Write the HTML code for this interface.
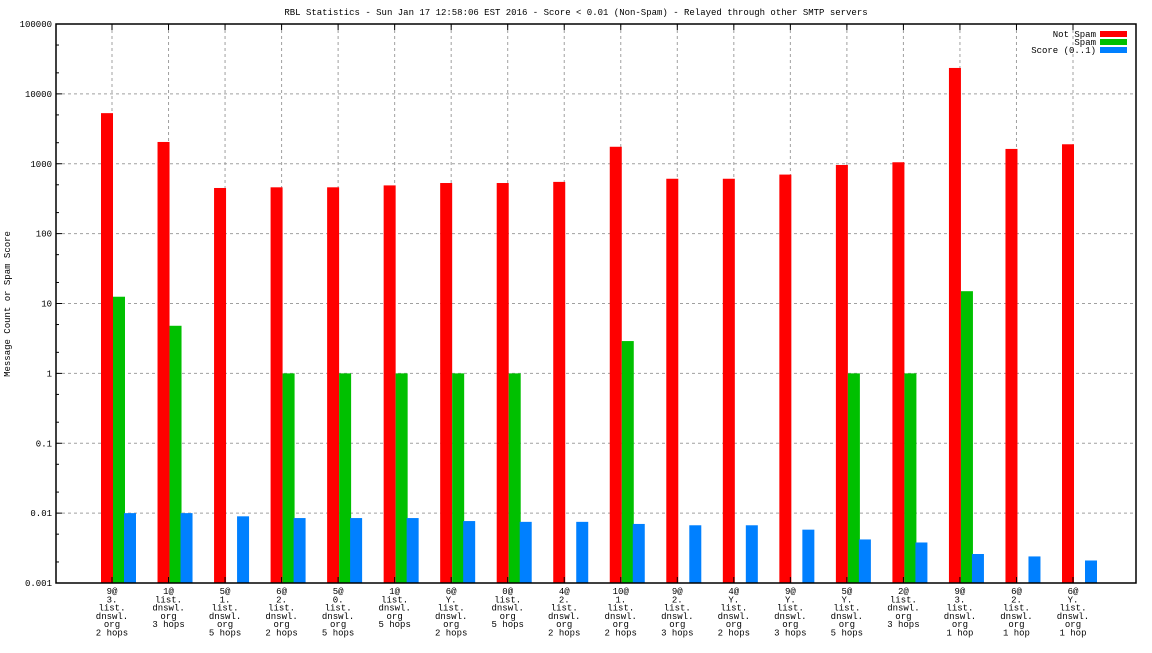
<!DOCTYPE html>
<html><head><meta charset="utf-8"><style>
body{margin:0;background:#fff;}
svg text{font-family:"Liberation Mono","DejaVu Sans Mono",monospace;font-size:9px;fill:#000;}
</style></head><body>
<svg id="chart" width="1152" height="648" xmlns="http://www.w3.org/2000/svg">
<text x="576" y="15" text-anchor="middle">RBL Statistics - Sun Jan 17 12:58:06 EST 2016 - Score &lt; 0.01 (Non-Spam) - Relayed through other SMTP servers</text>
<text transform="translate(10,304) rotate(-90)" text-anchor="middle">Message Count or Spam Score</text>
<g id="grid"></g><g id="bars"></g><g id="axes"></g><g id="labels"></g>
<g>
<text x="1096" y="37" text-anchor="end">Not Spam</text><rect x="1100" y="31" width="27" height="6" fill="#ff0000"/>
<text x="1096" y="45" text-anchor="end">Spam</text><rect x="1100" y="39" width="27" height="6" fill="#00c000"/>
<text x="1096" y="53" text-anchor="end">Score (0..1)</text><rect x="1100" y="47" width="27" height="6" fill="#0080ff"/>
</g>
</svg>
<script>
const categories=[["9@","3.","list.","dnswl.","org","2 hops"],["1@","list.","dnswl.","org","3 hops"],["5@","1.","list.","dnswl.","org","5 hops"],["6@","2.","list.","dnswl.","org","2 hops"],["5@","0.","list.","dnswl.","org","5 hops"],["1@","list.","dnswl.","org","5 hops"],["6@","Y.","list.","dnswl.","org","2 hops"],["0@","list.","dnswl.","org","5 hops"],["4@","2.","list.","dnswl.","org","2 hops"],["10@","1.","list.","dnswl.","org","2 hops"],["9@","2.","list.","dnswl.","org","3 hops"],["4@","Y.","list.","dnswl.","org","2 hops"],["9@","Y.","list.","dnswl.","org","3 hops"],["5@","Y.","list.","dnswl.","org","5 hops"],["2@","list.","dnswl.","org","3 hops"],["9@","3.","list.","dnswl.","org","1 hop"],["6@","2.","list.","dnswl.","org","1 hop"],["6@","Y.","list.","dnswl.","org","1 hop"]];
const notSpam=[5300,2050,450,460,460,490,530,530,550,1750,610,610,700,960,1050,23500,1630,1900];
const spam=[12.5,4.8,0,1,1,1,1,1,0,2.9,0,0,0,1,1,15,0,0];
const score=[0.0100,0.0100,0.0090,0.0085,0.0085,0.0085,0.0077,0.0075,0.0075,0.0070,0.0067,0.0067,0.0058,0.0042,0.0038,0.0026,0.0024,0.0021];
const yTicks=["0.001","0.01","0.1","1","10","100","1000","10000","100000"];
const NS="http://www.w3.org/2000/svg";
const L=56,R=1136,T=24,B=583;
const y=v=>B-(Math.log10(v)+3)/8*(B-T);
const x=i=>112+i*(1073-112)/17;
function mk(tag,attrs,parent){const e=document.createElementNS(NS,tag);for(const k in attrs)e.setAttribute(k,attrs[k]);document.getElementById(parent).appendChild(e);return e;}
yTicks.forEach((t,k)=>{const v=parseFloat(t),yy=y(v);
 if(k>0&&k<yTicks.length-1){const g=mk('line',{x1:L,x2:R,y1:yy,y2:yy,stroke:'#a0a0a0','stroke-dasharray':'3,3'},'grid');
 
 }
 const tx=mk('text',{x:L-4,y:yy+3,'text-anchor':'end'},'labels');tx.textContent=t;
 
 
 mk('line',{x1:L,x2:L+6,y1:yy,y2:yy,stroke:'#000'},'axes');
 if(k<yTicks.length-1)[2,5].forEach(m=>{const my=y(v*m);mk('line',{x1:L,x2:L+3,y1:my,y2:my,stroke:'#000'},'axes');});
});
categories.forEach((c,i)=>{const cx=x(i);
 const g=mk('line',{x1:cx,x2:cx,y1:T,y2:B,stroke:'#a0a0a0','stroke-dasharray':'3,3'},'grid');
 
 
 mk('line',{x1:cx,x2:cx,y1:T,y2:T+6,stroke:'#000'},'axes');
 mk('line',{x1:cx,x2:cx,y1:B,y2:B-6,stroke:'#000'},'axes');
 const series=[[notSpam[i],'#ff0000',-11,'bar-not-spam'],[spam[i],'#00c000',1,'bar-spam'],[score[i],'#0080ff',12,'bar-score']];
 series.forEach(s=>{if(s[0]>0.001){const yy=y(s[0]);const r=mk('rect',{x:cx+s[2],y:yy,width:12,height:B-yy,fill:s[1]},'bars');
 
 }});
 c.forEach((ln,j)=>{const t=mk('text',{x:cx,y:594+j*8.3,'text-anchor':'middle'},'labels');t.textContent=ln;
 
 });
});
mk('rect',{x:L,y:T,width:R-L,height:B-T,fill:'none',stroke:'#000','stroke-width':1.5},'axes');
</script>
</body></html>
